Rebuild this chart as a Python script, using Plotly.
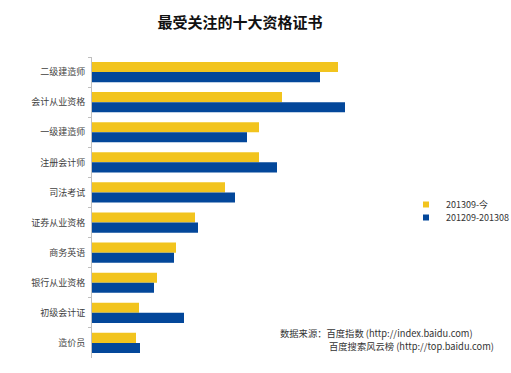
import plotly.graph_objects as go

categories = ["二级建造师", "会计从业资格", "一级建造师", "注册会计师", "司法考试",
              "证券从业资格", "商务英语", "银行从业资格", "初级会计证", "造价员"]
series_names = ["201309-今", "201209-201308"]
recent = [246, 190, 167, 167, 133, 103, 84, 65, 47, 44]
previous = [228, 253, 155, 185, 143, 106, 82, 62, 92, 48]
colors = ["#F2C41E", "#03479A"]

FONT = "Noto Sans CJK SC, Microsoft YaHei, sans-serif"

fig = go.Figure()
for i, (name, vals, col) in enumerate(zip(series_names, [recent, previous], colors)):
    fig.add_trace(go.Bar(
        y=categories, x=vals, orientation="h", name=name,
        marker=dict(color=col, line=dict(width=0)),
        showlegend=False,
    ))
    fig.add_trace(go.Scatter(
        x=[None], y=[None], mode="markers", name=name,
        marker=dict(symbol="square", size=6, color=col),
        legend="legend" if i == 0 else "legend2",
    ))

legend_common = dict(xref="container", yref="container", x=406/511,
                     xanchor="left", yanchor="top",
                     font=dict(size=9, color="#333333"),
                     bgcolor="rgba(0,0,0,0)", itemwidth=30)

fig.update_layout(
    width=511, height=373,
    margin=dict(l=92, r=119, t=57, b=15, autoexpand=False),
    paper_bgcolor="white", plot_bgcolor="white",
    barmode="group", bargap=0.33, bargroupgap=0,
    font=dict(family=FONT, size=9, color="#404040"),
    title=dict(text="<b>最受关注的十大资格证书</b>", x=240/511, xanchor="center",
               y=1 - 23/373, yanchor="middle",
               font=dict(family=FONT, size=15, color="#111111")),
    xaxis=dict(range=[0, 300], showgrid=False, zeroline=False, showline=False,
               showticklabels=False, ticks="", automargin=False),
    yaxis=dict(autorange="reversed", showgrid=False, showline=True,
               linecolor="#BFBFBF", linewidth=1, ticks="outside", ticklen=3,
               tickcolor="#BFBFBF", tickson="boundaries", automargin=False,
               tickfont=dict(size=9, color="#404040"), ticklabelstandoff=4),
    legend=dict(y=1 - 190/373, **legend_common),
    legend2=dict(y=1 - 203/373, **legend_common),
    annotations=[
        dict(text="数据来源：百度指数 (http://index.baidu.com)", xref="paper", yref="paper",
             x=(278 - 92) / 300, y=1 - (333 - 57) / 301, xanchor="left", yanchor="middle",
             showarrow=False, font=dict(size=9.3, color="#333333")),
        dict(text="百度搜索风云榜 (http://top.baidu.com)", xref="paper", yref="paper",
             x=(327 - 92) / 300, y=1 - (346 - 57) / 301, xanchor="left", yanchor="middle",
             showarrow=False, font=dict(size=9.3, color="#333333")),
    ],
)

fig.write_html("out.html", config={"displayModeBar": False},
               post_script="document.body.style.margin='0px';")
